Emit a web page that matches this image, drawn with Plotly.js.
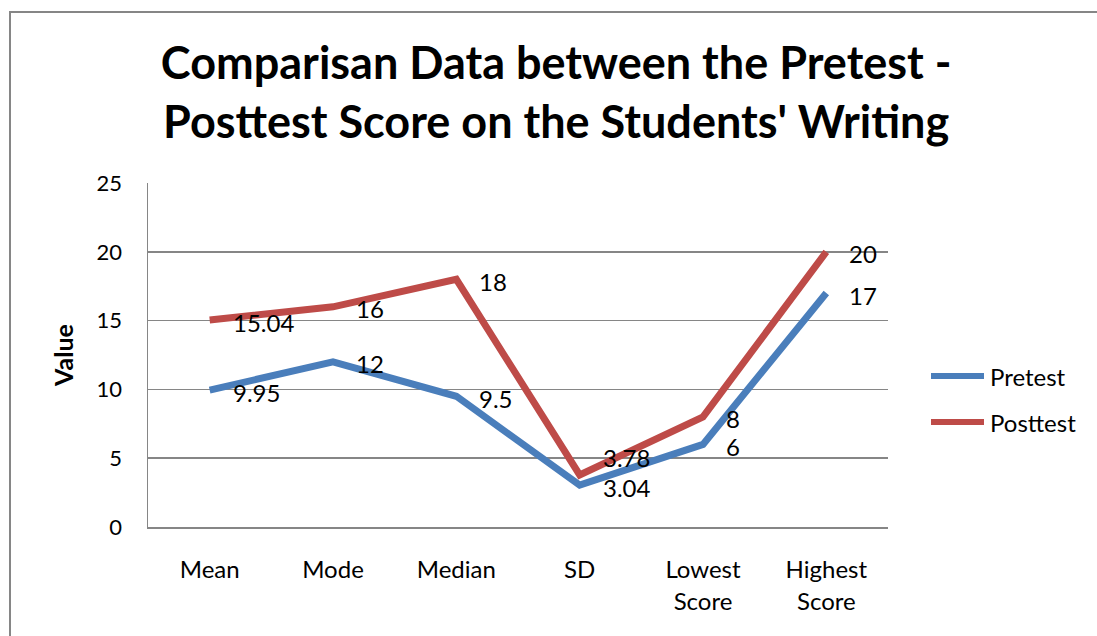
<!DOCTYPE html>
<html>
<head>
<meta charset="utf-8">
<script src="https://cdn.plot.ly/plotly-3.0.1.min.js"></script>
<style>
html,body{margin:0;padding:0;background:#fff;}
#chart{width:1097px;height:636px;}
</style>
</head>
<body>
<div id="chart"></div>
<script>
const categories = ["Mean", "Mode", "Median", "SD", "Lowest Score", "Highest Score"];
const tickLabels = ["Mean", "Mode", "Median", "SD", "Lowest<br>Score", "Highest<br>Score"];
const seriesNames = ["Pretest", "Posttest"];
const pretest = [9.95, 12, 9.5, 3.04, 6, 17];
const posttest = [15.04, 16, 18, 3.78, 8, 20];
const pretestLabels = ["9.95", "12", "9.5", "3.04", "6", "17"];
const posttestLabels = ["15.04", "16", "18", "3.78", "8", "20"];
const yTicks = [0, 5, 10, 15, 20, 25];

const FONT = "Lato, 'Open Sans', sans-serif";
const BLUE = "#4A7EBB";
const RED = "#BE4B48";
const GRAY = "#868686";
const colors = [BLUE, RED];

const traces = [
  {x: categories, y: pretest, name: seriesNames[0], type: "scatter", mode: "lines",
   line: {color: BLUE, width: 7}, showlegend: false},
  {x: categories, y: posttest, name: seriesNames[1], type: "scatter", mode: "lines",
   line: {color: RED, width: 7}, showlegend: false}
];

// vertical nudges for the SD labels (placed apart around the crossing in the original)
const postShift = {3: 19};
const preShift = {3: 0};
const annotations = [];
categories.forEach((c, i) => {
  annotations.push({x: c, y: pretest[i], text: pretestLabels[i], showarrow: false,
    xanchor: "left", yanchor: "middle", xshift: 21, yshift: -2 + (preShift[i] || 0),
    font: {family: FONT, size: 24, color: "#000"}});
  annotations.push({x: c, y: posttest[i], text: posttestLabels[i], showarrow: false,
    xanchor: "left", yanchor: "middle", xshift: 21, yshift: -2 + (postShift[i] || 0),
    font: {family: FONT, size: 24, color: "#000"}});
});

// legend drawn as paper-positioned line samples and labels
const W = 740, H = 344, L = 148, B = 527;
const px = v => (v - L) / W;
const py = v => (B - v) / H;
const legendY = [376, 422];
const shapes = [{
  type: "rect", xref: "paper", yref: "paper",
  x0: px(10), x1: px(1110), y0: py(650), y1: py(12),
  line: {color: GRAY, width: 2}, fillcolor: "rgba(0,0,0,0)", layer: "below"
}];
seriesNames.forEach((n, i) => {
  shapes.push({type: "line", xref: "paper", yref: "paper",
    x0: px(931), x1: px(984), y0: py(legendY[i]), y1: py(legendY[i]),
    line: {color: colors[i], width: 6}});
  annotations.push({xref: "paper", yref: "paper", x: px(988), y: py(legendY[i]),
    text: n, showarrow: false, xanchor: "left", yanchor: "middle",
    font: {family: FONT, size: 24, color: "#000"}});
});

const layout = {
  width: 1097, height: 636,
  margin: {l: 148, r: 209, t: 183, b: 109},
  paper_bgcolor: "#fff", plot_bgcolor: "#fff",
  font: {family: FONT, size: 22, color: "#000"},
  showlegend: false,
  title: {
    text: "<b>Comparisan Data between the Pretest -<br>Posttest Score on the Students' Writing</b>",
    font: {family: FONT, size: 45, color: "#000"},
    xref: "container", x: 0.507, xanchor: "center",
    yref: "container", y: 1 - 79/636, yanchor: "middle"
  },
  xaxis: {
    type: "category", tickvals: categories, ticktext: tickLabels,
    showgrid: false, showline: true, linecolor: GRAY, linewidth: 1.5,
    ticks: "", ticklabelstandoff: 21, zeroline: false,
    tickfont: {family: FONT, size: 24, color: "#000"},
    range: [-0.5, 5.5]
  },
  yaxis: {
    range: [0, 25], tickvals: yTicks, ticktext: yTicks.map(String),
    showgrid: true, gridcolor: GRAY, gridwidth: 1.5,
    showline: true, linecolor: GRAY, linewidth: 1.5, zeroline: false,
    ticks: "", ticklabelstandoff: 20,
    tickfont: {family: FONT, size: 22, color: "#000"},
    title: {text: "<b>Value</b>", font: {family: FONT, size: 25, color: "#000"}, standoff: 16}
  },
  annotations: annotations,
  shapes: shapes
};

Plotly.newPlot("chart", traces, layout, {displayModeBar: false, staticPlot: true});
</script>
</body>
</html>
